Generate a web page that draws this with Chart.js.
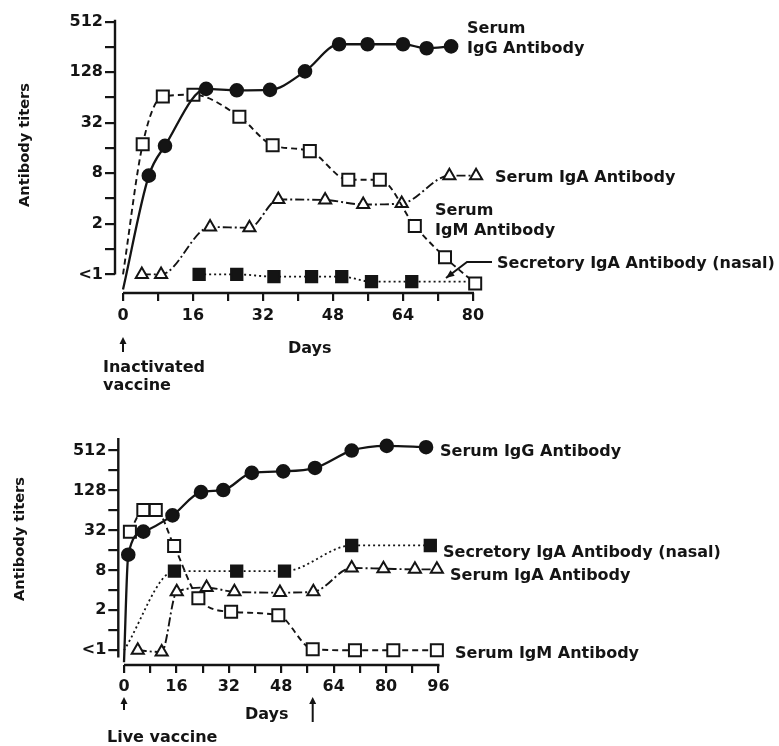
<!DOCTYPE html>
<html>
<head>
<meta charset="utf-8">
<script src="https://cdn.jsdelivr.net/npm/chart.js@4/dist/chart.umd.min.js"></script>
<style>
  body { margin: 0; background: #fff; }
  #wrap { position: relative; width: 779px; height: 746px; }
  canvas { position: absolute; left: 0; }
  #topChart { top: 0; }
  #bottomChart { top: 400px; }
</style>
</head>
<body>
<div id="wrap">
  <canvas id="topChart" width="779" height="400"></canvas>
  <canvas id="bottomChart" width="779" height="346"></canvas>
</div>
<script>
const INK = '#141414';
const FONT = "'DejaVu Sans', sans-serif";

// doubling titer scale, shared by both panels
const yTickValues = [0.5, 1, 2, 4, 8, 16, 32, 64, 128, 256, 512];
const yTickLabels = ['<1', '', '2', '', '8', '', '32', '', '128', '', '512'];
const topDayTicks = [0, 8, 16, 24, 32, 40, 48, 56, 64, 72, 80];
const bottomDayTicks = [0, 8, 16, 24, 32, 40, 48, 56, 64, 72, 80, 88, 96];

// inactivated vaccine (top panel)
const topIgGDays = [0, 5.9, 9.6, 19, 26, 33.6, 41.6, 49.4, 55.9, 64, 69.4, 75];
const topIgG     = [0.33, 7.5, 17, 81, 78, 79, 131, 276, 276, 276, 247, 260];
const topIgMDays = [0, 4.5, 9.1, 16.1, 26.6, 34.2, 42.7, 51.5, 58.7, 66.7, 73.6, 80.5];
const topIgM     = [0.5, 17.8, 66, 69, 37.8, 17.3, 14.7, 6.7, 6.7, 1.88, 0.8, 0.39];
const topIgADays = [4.3, 8.7, 19.9, 28.9, 35.5, 46.2, 54.9, 63.7, 74.6, 80.7];
const topIgA     = [0.5, 0.5, 1.83, 1.8, 3.9, 3.85, 3.4, 3.5, 7.5, 7.5];
const topSecDays = [17.4, 26, 34.5, 43.1, 50, 56.8, 66, 79];
const topSec     = [0.5, 0.5, 0.47, 0.47, 0.47, 0.41, 0.41, 0.41];

// live vaccine (bottom panel)
const botIgGDays = [0, 1.3, 5.9, 14.8, 23.5, 30.3, 39, 48.6, 58.3, 69.5, 80.2, 92.2];
const botIgG     = [0.33, 13.8, 30.7, 54, 121, 130, 236, 249, 280, 512, 602, 576];
const botIgMDays = [1.8, 5.9, 9.7, 15.3, 22.7, 32.7, 47.1, 57.6, 70.5, 82.2, 95.5];
const botIgM     = [30.7, 65, 65, 18.6, 3.05, 1.9, 1.68, 0.52, 0.5, 0.5, 0.5];
const botSecDays = [0, 15.4, 34.4, 49, 69.5, 93.5];
const botSec     = [0.5, 7.8, 7.8, 7.8, 19, 19];
const botIgADays = [4.2, 11.5, 16.1, 25.2, 33.7, 47.6, 57.8, 69.5, 79.2, 88.8, 95.5];
const botIgA     = [0.5, 0.47, 3.8, 4.4, 3.8, 3.7, 3.8, 8.7, 8.5, 8.3, 8.3];

const STYLES = {
  igg: { borderDash: [], borderWidth: 2.3, pointStyle: 'circle', r: 6.3, fill: INK },
  igm: { borderDash: [6, 4], borderWidth: 1.9, pointStyle: 'rect', r: 8.5, fill: '#fff' },
  iga: { borderDash: [9, 3, 2, 3], borderWidth: 1.9, pointStyle: 'triangle', r: 7, fill: '#fff' },
  sec: { borderDash: [2, 3], borderWidth: 1.8, pointStyle: 'rect', r: 8, fill: INK }
};

// noMarker: indexes where the curve just starts/ends without a symbol
function series(days, vals, kind, noMarker = []) {
  const s = STYLES[kind];
  return {
    data: days.map((d, i) => ({ x: d, y: vals[i] })),
    borderColor: INK,
    borderWidth: s.borderWidth,
    borderDash: s.borderDash,
    tension: 0.4,
    cubicInterpolationMode: 'monotone',
    pointStyle: s.pointStyle,
    pointRadius: ctx => noMarker.includes(ctx.dataIndex) ? 0 : s.r,
    pointBackgroundColor: s.fill,
    pointBorderColor: INK,
    pointBorderWidth: 2,
    clip: false
  };
}

const decor = {
  id: 'decor',
  afterDraw(chart, _args, o) {
    const ctx = chart.ctx;
    const x = chart.scales.x, y = chart.scales.y;
    ctx.save();
    ctx.strokeStyle = INK; ctx.fillStyle = INK;
    ctx.lineWidth = 2.4; ctx.setLineDash([]);
    // axis lines (y stops at the lowest titer, x starts at day 0)
    ctx.beginPath();
    ctx.moveTo(x.left, y.top);
    ctx.lineTo(x.left, y.getPixelForValue(o.yAxisLow));
    ctx.moveTo(x.getPixelForValue(0), y.bottom);
    ctx.lineTo(x.getPixelForValue(o.xEnd) + 1, y.bottom);
    ctx.stroke();

    // y title
    ctx.save();
    ctx.font = 'bold 14.6px ' + FONT;
    ctx.translate(o.title[0], o.title[1]);
    ctx.rotate(-Math.PI / 2);
    ctx.textAlign = 'center'; ctx.textBaseline = 'middle';
    ctx.fillText('Antibody titers', 0, 0);
    ctx.restore();

    // text labels
    ctx.font = 'bold 16px ' + FONT;
    ctx.textAlign = 'left'; ctx.textBaseline = 'alphabetic';
    o.labels.forEach(([t, lx, ly]) => ctx.fillText(t, lx, ly));

    // vaccination arrows under the day axis
    ctx.lineWidth = 2;
    o.arrows.forEach(([day, tipY, tailY]) => {
      const ax = x.getPixelForValue(day);
      ctx.beginPath(); ctx.moveTo(ax, tipY + 4); ctx.lineTo(ax, tailY); ctx.stroke();
      ctx.beginPath(); ctx.moveTo(ax, tipY); ctx.lineTo(ax - 3.5, tipY + 7); ctx.lineTo(ax + 3.5, tipY + 7); ctx.closePath(); ctx.fill();
    });

    // leader line with arrow
    if (o.leader) {
      const p = o.leader;
      ctx.beginPath(); ctx.moveTo(p[0][0], p[0][1]);
      for (let i = 1; i < p.length; i++) ctx.lineTo(p[i][0], p[i][1]);
      ctx.stroke();
      const [ex, ey] = p[p.length - 1], [sx, sy] = p[p.length - 2];
      const a = Math.atan2(ey - sy, ex - sx);
      ctx.beginPath();
      ctx.moveTo(ex, ey);
      ctx.lineTo(ex - 9 * Math.cos(a - 0.4), ey - 9 * Math.sin(a - 0.4));
      ctx.lineTo(ex - 9 * Math.cos(a + 0.4), ey - 9 * Math.sin(a + 0.4));
      ctx.closePath(); ctx.fill();
    }
    ctx.restore();
  }
};

function makeOptions(p) {
  const tickFont = { family: FONT, size: 16, weight: 'bold' };
  return {
    responsive: false,
    animation: false,
    events: [],
    layout: { padding: { left: 0, top: p.top, right: p.right, bottom: 0 } },
    plugins: { legend: { display: false }, tooltip: { enabled: false }, decor: p.decor },
    scales: {
      x: {
        type: 'linear',
        min: p.xMin, max: p.xMax,
        afterBuildTicks: s => { s.ticks = p.dayTicks.map(v => ({ value: v })); },
        afterFit: s => { s.height = p.xHeight; },
        border: { display: false },
        grid: { drawOnChartArea: false, drawTicks: true, tickLength: 8, color: INK, lineWidth: 2.2 },
        ticks: {
          color: INK, font: tickFont, padding: p.xPad, maxRotation: 0, autoSkip: false,
          callback: v => (v % 16 === 0 ? String(v) : '')
        }
      },
      y: {
        type: 'logarithmic',
        min: p.yMin, max: p.yMax,
        afterBuildTicks: s => { s.ticks = yTickValues.map(v => ({ value: v })); },
        afterFit: s => { s.width = p.yWidth; },
        border: { display: false },
        grid: { drawOnChartArea: false, drawTicks: true, tickLength: 10, color: INK, lineWidth: 2.2 },
        ticks: {
          color: INK, font: tickFont, padding: 2, autoSkip: false,
          callback: v => { const i = yTickValues.indexOf(v); return i < 0 ? '' : yTickLabels[i]; }
        }
      }
    }
  };
}

new Chart(document.getElementById('topChart'), {
  type: 'line',
  data: {
    datasets: [
      series(topIgGDays, topIgG, 'igg', [0]),
      series(topIgMDays, topIgM, 'igm', [0]),
      series(topIgADays, topIgA, 'iga'),
      series(topSecDays, topSec, 'sec', [topSecDays.length - 1])
    ]
  },
  options: makeOptions({
    top: 19.7, right: 306, xMin: -1.83, xMax: 80, yMin: 0.312, yMax: 541,
    xHeight: 107, yWidth: 115, xPad: 5, dayTicks: topDayTicks,
    decor: {
      yAxisLow: 0.5, xEnd: 80, title: [25, 145],
      labels: [
        ['Serum', 467, 33], ['IgG Antibody', 467, 53],
        ['Serum IgA Antibody', 495, 182],
        ['Serum', 435, 215], ['IgM Antibody', 435, 235],
        ['Secretory IgA Antibody (nasal)', 497, 268],
        ['Days', 288, 353],
        ['Inactivated', 103, 372], ['vaccine', 103, 390]
      ],
      arrows: [[0, 337, 352]],
      leader: [[492, 262], [467, 262], [446, 278]]
    }
  }),
  plugins: [decor]
});

new Chart(document.getElementById('bottomChart'), {
  type: 'line',
  data: {
    datasets: [
      series(botIgGDays, botIgG, 'igg', [0]),
      series(botIgMDays, botIgM, 'igm'),
      series(botIgADays, botIgA, 'iga'),
      series(botSecDays, botSec, 'sec', [0])
    ]
  },
  options: makeOptions({
    top: 38, right: 340.5, xMin: -1.74, xMax: 96, yMin: 0.328, yMax: 792,
    xHeight: 81, yWidth: 118.3, xPad: 4.5, dayTicks: bottomDayTicks,
    decor: {
      yAxisLow: 0.39, xEnd: 96, title: [20, 139],
      labels: [
        ['Serum IgG Antibody', 440, 56],
        ['Secretory IgA Antibody (nasal)', 443, 157],
        ['Serum IgA Antibody', 450, 180],
        ['Serum IgM Antibody', 455, 258],
        ['Days', 245, 319],
        ['Live vaccine', 107, 341.5]
      ],
      arrows: [[0, 297, 310], [57.6, 297, 322]]
    }
  }),
  plugins: [decor]
});
</script>
</body>
</html>
